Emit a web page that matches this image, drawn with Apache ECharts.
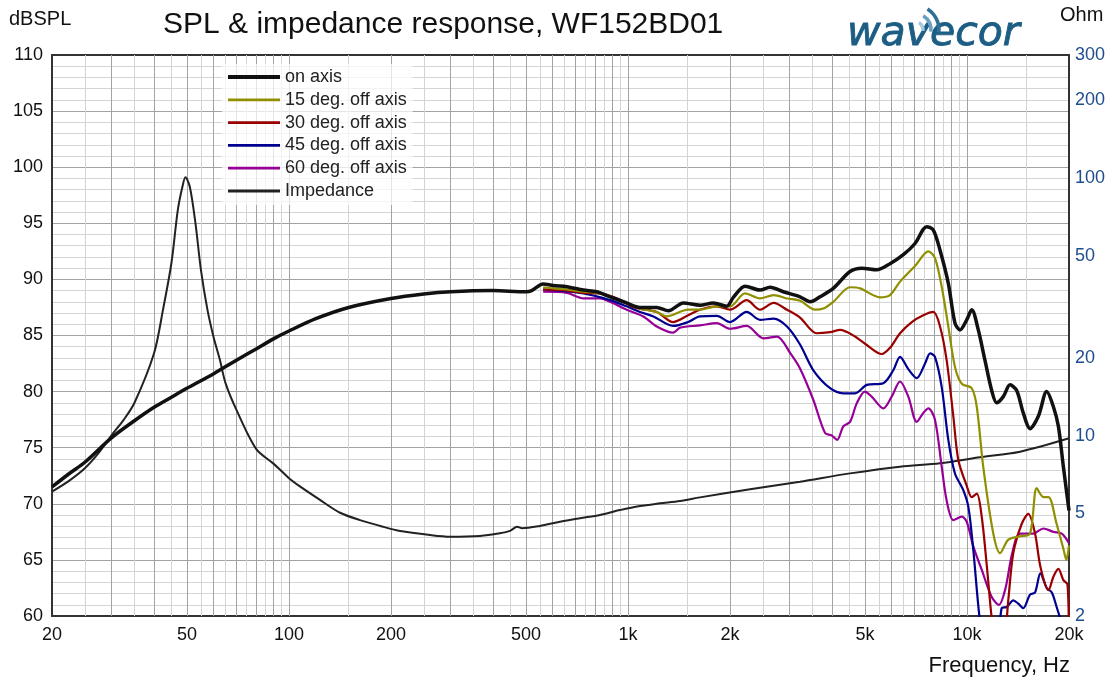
<!DOCTYPE html>
<html><head><meta charset="utf-8">
<script src="https://cdn.jsdelivr.net/npm/echarts@6/dist/echarts.min.js"></script>
<style>html,body{margin:0;padding:0;background:#fff}#c{width:1115px;height:681px}</style>
</head><body><div id="c"></div>
<script>
// ---- data ----
const X_LABELS = [20, 50, 100, 200, 500, 1000, 2000, 5000, 10000, 20000];
const OHM_LABELS = [2, 5, 10, 20, 50, 100, 200, 300];
const MULT_MAJOR = [1, 2, 3, 4, 5, 6, 7, 8, 9];
const MULT_MINOR = [1.5, 2.5, 3.5, 4.5, 5.5, 6.5, 7.5, 8.5, 9.5];
const DECADES = [10, 100, 1000, 10000];

const F_ON = [20,22.5,25,30,35,40,45,50,60,70,80,90,100,120,150,200,250,300,400,500,520,562,602,660,739,809,885,991,1085,1216,1316,1457,1631,1786,1955,2046,2215,2453,2625,2872,3218,3444,3688,4033,4520,4894,5417,5929,6493,7028,7610,7958,8329,8811,9219,9545,9985,10330,10800,11300,11830,12240,12800,13400,14020,14660,15350,16240,17190,17990,18610,19250,20000];
const SPL_ON = [71.5,72.7,73.7,75.9,77.4,78.6,79.5,80.3,81.6,82.8,83.8,84.7,85.4,86.5,87.5,88.3,88.7,88.9,89.0,88.9,89.0,89.6,89.45,89.35,89.05,88.9,88.45,87.9,87.5,87.5,87.2,87.9,87.7,87.9,87.6,88.4,89.4,89.05,89.3,88.9,88.45,88.0,88.45,89.2,90.7,91.0,90.85,91.4,92.2,93.2,94.7,94.4,92.6,89.65,86.1,85.5,86.4,87.3,85.5,82.8,80.1,79.0,79.55,80.6,80.1,78.1,76.7,77.8,80.0,78.65,76.9,73.3,69.4];

const F_15 = [562,602,660,739,809,885,991,1085,1216,1301,1505,1631,1829,2001,2215,2453,2690,2945,3218,3564,3770,4033,4520,4840,5540,5929,6348,7028,7695,8047,8425,8811,9219,9654,10330,10690,11170,11960,12520,13250,14340,15350,16060,16800,17400,18390,19250,19650,20000];
const SPL_15 = [89.3,89.2,89.1,88.9,88.8,88.5,87.9,87.4,87.1,86.7,87.3,87.3,87.6,87.6,88.75,88.3,88.6,88.3,88.1,87.3,87.4,88.0,89.3,89.2,88.4,88.6,89.8,91.2,92.5,91.9,89.35,85.8,82.2,80.7,80.3,78.65,73.3,67.35,65.6,66.8,67.1,67.35,71.4,70.6,70.6,68.2,66.0,65.0,66.3];

const F_30 = [562,660,739,827,929,1043,1216,1359,1505,1631,1829,2001,2240,2453,2690,2945,3218,3604,3948,4225,4623,5064,5605,5929,6348,6876,7435,7958,8329,8711,9116,9431,9985,10330,10690,11060,11450,11830,12240,12800,13250,13700,14500,15170,15880,16470,17400,17990,18610,19250,19800,20000];
const SPL_30 = [89.1,89.0,88.8,88.75,88.3,87.5,87.1,86.2,86.8,87.3,87.6,87.3,88.15,87.3,87.9,87.3,86.6,85.2,85.3,85.5,85.0,84.15,83.35,83.9,85.2,86.2,86.8,87.1,85.8,82.8,77.8,73.9,71.6,70.6,70.9,68.8,64.4,59.8,56.5,57.0,61.5,65.6,68.2,69.1,67.35,64.4,62.3,63.5,64.2,63.2,62.8,57.0];

const F_45 = [562,739,885,991,1085,1189,1359,1505,1631,1829,2001,2240,2453,2690,2945,3218,3523,3948,4319,4676,5064,5666,6063,6348,6715,7110,7523,7786,8047,8425,8811,9219,9760,10100,10440,10930,11500,12300,12660,13100,13700,14170,14660,15350,15880,16470,17190,17800,18390,19050,20000];
const SPL_45 = [89.1,88.75,88.15,87.6,87.1,86.7,85.85,86.2,86.7,86.75,86.2,87.1,86.4,86.5,85.8,84.2,81.9,80.3,79.85,79.85,80.6,80.75,81.9,83.1,82.0,81.2,82.5,83.4,83.1,80.4,75.7,72.7,71.2,69.7,65.9,59.5,56.0,57.0,60.7,60.8,61.4,61.1,60.7,61.9,62.1,63.8,62.5,62.1,60.8,59.3,57.0];

const F_60 = [562,660,739,827,885,991,1110,1216,1359,1424,1631,1829,2001,2240,2512,2753,3015,3218,3523,3815,3989,4140,4319,4520,4730,5000,5236,5666,5996,6348,6715,7110,7435,7695,8047,8425,8711,9116,9654,9985,10440,11060,11830,12430,13000,13600,14340,15700,16800,17990,19050,20000];
const SPL_60 = [88.9,88.8,88.3,88.3,88.0,87.3,86.7,85.8,85.25,85.7,85.9,86.1,85.6,85.85,84.75,84.9,83.4,82.05,79.25,76.3,76.1,75.7,76.9,77.3,78.95,80.0,79.55,78.5,79.55,80.9,79.55,77.3,78.1,78.5,77.5,73.3,70.3,68.55,68.85,68.4,66.2,64.1,61.7,61.0,62.5,65.6,67.35,67.35,67.8,67.5,67.35,66.5];

const F_IMP = [20,22.5,25,27.5,30,32.5,35,40,42.5,45,47,48.5,49.5,51,53,55,57.5,60,62.5,65,70,80,90,94,100,108,123.5,141.5,162,186,213,261,299,366,419,449,471,487,550,630,722,827,947,1085,1243,1424,1631,2292,3218,4520,6348,8329,10930,14340,20000];
const OHM_IMP = [6.07,6.7,7.48,8.6,10.07,11.5,13.4,20.9,30.8,46.7,75.1,92.5,100.6,92.5,66.7,44.0,30.8,24.0,19.8,16.0,12.6,8.9,7.8,7.4,6.85,6.35,5.64,5.03,4.71,4.47,4.27,4.12,4.06,4.09,4.19,4.28,4.44,4.38,4.47,4.64,4.79,4.93,5.15,5.34,5.47,5.59,5.77,6.20,6.64,7.15,7.59,7.82,8.25,8.68,9.78];

// ---- build ----
const zip = (f, v) => f.map((x, i) => [x, v[i]]);
const gridMajor = [], gridMinor = [];
DECADES.forEach(d => {
  MULT_MAJOR.forEach(m => { const v = m * d; if (v > 20 && v < 20000) gridMajor.push(v); });
  MULT_MINOR.forEach(m => { const v = m * d; if (v > 20 && v < 20000) gridMinor.push(v); });
});
const FONT = 'Liberation Sans, Arial, sans-serif';
const fmtHz = v => v >= 1000 ? (v / 1000) + 'k' : String(v);

const chart = echarts.init(document.getElementById('c'), null, {renderer: 'canvas'});
const lineSeries = (name, data, color, width, yIdx) => ({
  name, type: 'line', data, yAxisIndex: yIdx || 0, symbol: 'none', smooth: 0.3,
  lineStyle: {color, width}, itemStyle: {color}, z: 3, clip: true
});

chart.setOption({
  animation: false,
  backgroundColor: '#fff',
  textStyle: {fontFamily: FONT},
  grid: {left: 52, right: 46, top: 55, bottom: 65, containLabel: false},
  xAxis: [{
    type: 'log', logBase: 10, min: 20, max: 20000,
    axisLine: {show: true, onZero: false, lineStyle: {color: '#333', width: 2}},
    axisTick: {show: false},
    splitLine: {show: false},
    axisLabel: {customValues: X_LABELS, formatter: fmtHz, fontSize: 18, color: '#111', margin: 10, fontFamily: FONT}
  }, {
    type: 'log', logBase: 10, min: 20, max: 20000, position: 'top',
    axisLine: {show: true, onZero: false, lineStyle: {color: '#333', width: 2}},
    axisTick: {show: false}, axisLabel: {show: false}, splitLine: {show: false}
  }],
  yAxis: [{
    type: 'value', min: 60, max: 110, interval: 5,
    axisLine: {show: true, onZero: false, lineStyle: {color: '#333', width: 2}},
    axisTick: {show: false},
    axisLabel: {fontSize: 18, color: '#111', margin: 9, fontFamily: FONT},
    splitLine: {show: true, lineStyle: {color: '#a3a3a3', width: 1}},
    minorTick: {show: false, splitNumber: 5},
    minorSplitLine: {show: true, lineStyle: {color: '#d4d4d4', width: 1}}
  }, {
    type: 'log', logBase: 10, min: 2, max: 300, position: 'right',
    axisLine: {show: true, onZero: false, lineStyle: {color: '#333', width: 2}},
    axisTick: {show: false},
    splitLine: {show: false},
    axisLabel: {customValues: OHM_LABELS, fontSize: 18, color: '#1f4e8c', margin: 6, fontFamily: FONT}
  }],
  legend: {
    orient: 'vertical', left: 222, top: 64, z: 10,
    itemWidth: 52, itemHeight: 14, itemGap: 4.8,
    padding: [4, 6, 5, 4],
    backgroundColor: 'rgba(255,255,255,0.72)',
    itemStyle: {color: 'rgba(0,0,0,0)', borderColor: 'rgba(0,0,0,0)', borderWidth: 0, opacity: 0},
    textStyle: {fontSize: 18, color: '#222', fontFamily: FONT},
    data: [
      {name: 'on axis', lineStyle: {width: 4}},
      {name: '15 deg. off axis', lineStyle: {width: 2.8}},
      {name: '30 deg. off axis', lineStyle: {width: 2.8}},
      {name: '45 deg. off axis', lineStyle: {width: 2.8}},
      {name: '60 deg. off axis', lineStyle: {width: 2.8}},
      {name: 'Impedance', lineStyle: {width: 2.8}}
    ]
  },
  graphic: [
    {type: 'text', left: 163, top: 10, style: {text: 'SPL & impedance response, WF152BD01', font: '30px ' + FONT, fill: '#111'}},
    {type: 'text', left: 9, top: 9, style: {text: 'dBSPL', font: '20px ' + FONT, fill: '#111'}},
    {type: 'text', left: 1060, top: 5, style: {text: 'Ohm', font: '20px ' + FONT, fill: '#111'}},
    {type: 'text', right: 45, top: 655, style: {text: 'Frequency, Hz', font: '22px ' + FONT, fill: '#111'}},
    {type: 'text', x: 847, y: 34, style: {text: 'wavecor', font: 'italic 41px "DejaVu Sans"', fill: '#1c5d84', stroke: '#1c5d84', lineWidth: 0.9, verticalAlign: 'middle'}},
    {type: 'arc', shape: {cx: 914, cy: 30, r: 9, startAngle: -1.0, endAngle: 0.1}, style: {stroke: '#a9c8dc', lineWidth: 3.5, fill: null}},
    {type: 'arc', shape: {cx: 914, cy: 30, r: 17, startAngle: -1.0, endAngle: 0.1}, style: {stroke: '#6b9fc2', lineWidth: 3.5, fill: null}},
    {type: 'arc', shape: {cx: 914, cy: 30, r: 25, startAngle: -1.0, endAngle: 0.1}, style: {stroke: '#2f6f98', lineWidth: 3.5, fill: null}}
  ],
  series: [
    {
      name: 'grid', type: 'line', data: [[1000, 60]], symbol: 'none', lineStyle: {opacity: 0}, z: 1, silent: true,
      markLine: {
        z: 1, silent: true, symbol: 'none', label: {show: false}, animation: false,
        data: [
          ...gridMinor.map(v => ({xAxis: v, lineStyle: {color: '#d4d4d4', width: 1, type: 'solid'}})),
          ...gridMajor.map(v => ({xAxis: v, lineStyle: {color: '#a3a3a3', width: 1, type: 'solid'}}))
        ]
      }
    },
    lineSeries('Impedance', zip(F_IMP, OHM_IMP), '#222', 2, 1),
    lineSeries('60 deg. off axis', zip(F_60, SPL_60), '#960096', 2.2),
    lineSeries('45 deg. off axis', zip(F_45, SPL_45), '#000090', 2.2),
    lineSeries('30 deg. off axis', zip(F_30, SPL_30), '#990000', 2.2),
    lineSeries('15 deg. off axis', zip(F_15, SPL_15), '#8f8f00', 2.2),
    lineSeries('on axis', zip(F_ON, SPL_ON), '#111', 3.5)
  ]
});
</script></body></html>
